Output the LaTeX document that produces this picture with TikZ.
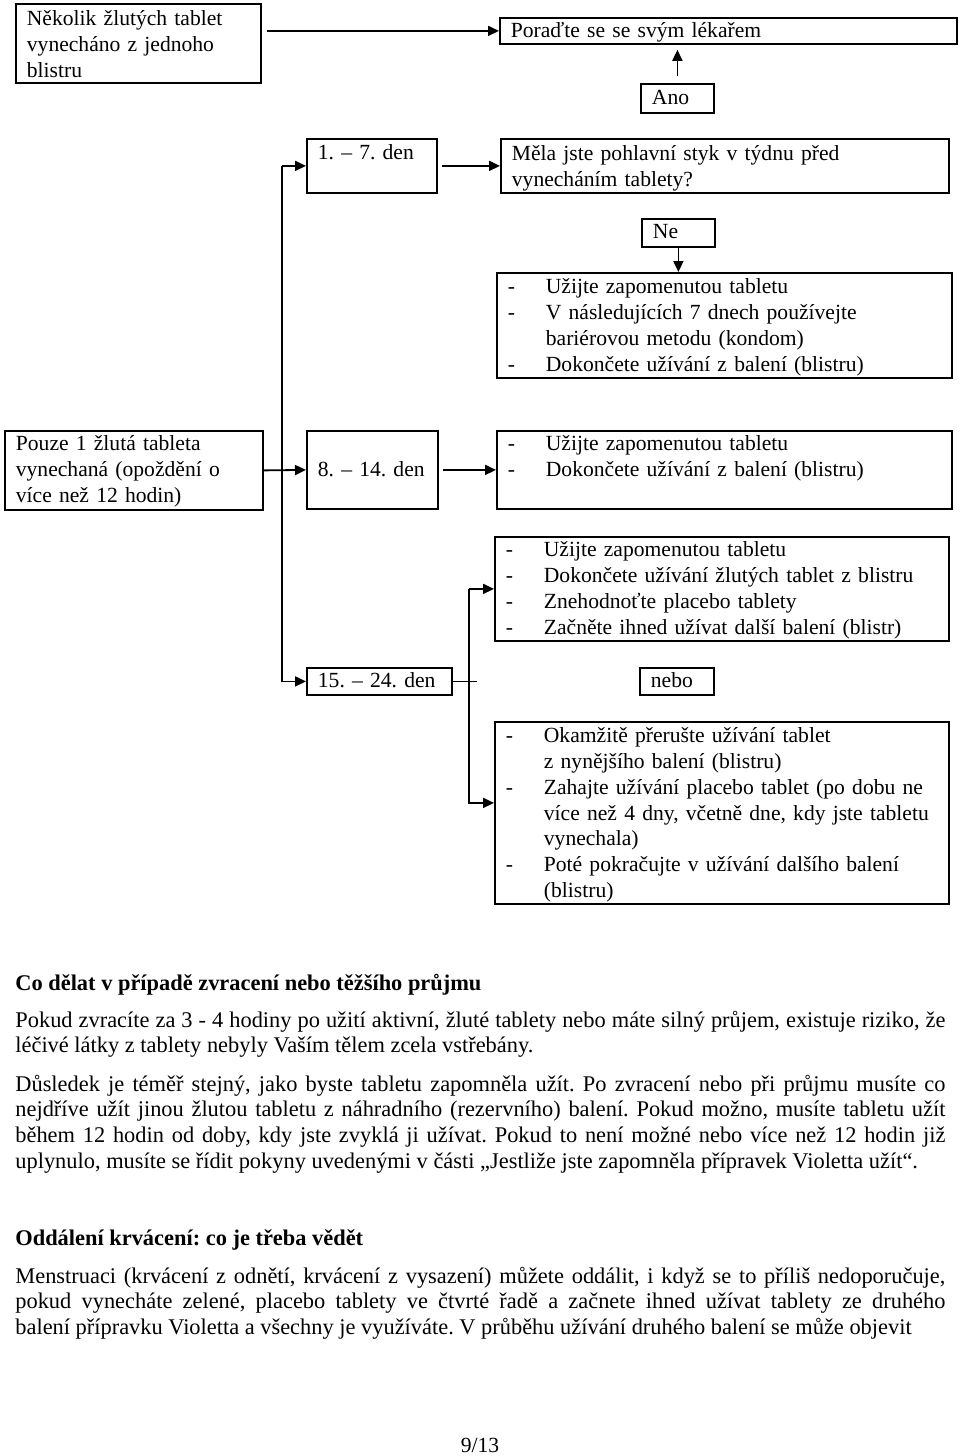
\documentclass[tikz,border=0pt]{standalone}
\usepackage{fontspec}
\setmainfont{Liberation Serif}
\usetikzlibrary{arrows.meta}

% odrazka s predsazenim
\newcommand{\odr}{\hangindent=19pt\hangafter=1\noindent\makebox[19pt][l]{-}}

\begin{document}
\begin{tikzpicture}[x=0.5pt,y=-0.5pt,
    font=\fontsize{10.8pt}{12.85pt}\selectfont\frenchspacing,
    box/.style={draw,line width=0.9pt,anchor=north west,
      inner xsep=5.5pt,inner ysep=0pt,align=left},
    arr/.style={line width=0.9pt,-{Triangle[length=5.5pt,width=5pt]}},
    txt/.style={anchor=base west,inner sep=0pt,text width=465pt,align=justify,
      font=\fontsize{11.2pt}{12.85pt}\selectfont\frenchspacing}]
  \useasboundingbox (0,0) rectangle (960,1456);

  % schema
  \draw (15,3) node[box,text width=111.5pt,text height=11pt,text depth=28.5pt] (nekolik)
    {Několik žlutých tablet\\ vynecháno z jednoho\\ blistru};
  \draw (499,17) node[box,text width=217.5pt,text height=10pt,text depth=3pt] (porad)
    {Poraďte se se svým lékařem};
  \draw (640,83) node[box,text width=25.5pt,text height=10.5pt,text depth=4pt] (ano) {Ano};
  \draw (306,138) node[box,text width=54pt,text height=10.5pt,text depth=16.5pt] (den1) {1. – 7. den};
  \draw (500,138) node[box,text width=213pt,text height=11pt,text depth=16pt] (mela)
    {Měla jste pohlavní styk v týdnu před\\ vynecháním tablety?};
  \draw (641,218) node[box,text width=25.5pt,text height=10pt,text depth=4pt] (ne) {Ne};
  \draw (496,272) node[box,text width=216.5pt,text height=10.5pt,text depth=42pt] (r17)
    {\odr Užijte zapomenutou tabletu
     \par\odr V následujících 7 dnech používejte\newline bariérovou metodu (kondom)
     \par\odr Dokončete užívání z balení (blistru)\par};
  \draw (4,430) node[box,text width=118pt,text height=10pt,text depth=29.5pt] (pouze)
    {Pouze 1 žlutá tableta\\ vynechaná (opoždění o\\ více než 12 hodin)};
  \draw (306,430) node[box,text width=54.5pt,text height=23pt,text depth=16pt] (den8) {8. – 14. den};
  \draw (496,430) node[box,text width=216.5pt,text height=10pt,text depth=29pt] (r814)
    {\odr Užijte zapomenutou tabletu
     \par\odr Dokončete užívání z balení (blistru)\par};
  \draw (494,536) node[box,text width=216pt,text height=10pt,text depth=42pt] (rA)
    {\odr Užijte zapomenutou tabletu
     \par\odr Dokončete užívání žlutých tablet z blistru
     \par\odr Znehodnoťte placebo tablety
     \par\odr Začněte ihned užívat další balení (blistr)\par};
  \draw (306,667) node[box,text width=61.5pt,text height=10pt,text depth=3.5pt] (den15) {15. – 24. den};
  \draw (639,667) node[box,text width=26pt,text height=10pt,text depth=3.5pt] (nebo) {nebo};
  \draw (494,721) node[box,text width=216pt,text height=10.5pt,text depth=80.5pt] (rB)
    {\odr Okamžitě přerušte užívání tablet\newline z nynějšího balení (blistru)
     \par\odr Zahajte užívání placebo tablet (po dobu ne\newline více než 4 dny, včetně dne, kdy jste tabletu\newline vynechala)
     \par\odr Poté pokračujte v užívání dalšího balení\newline (blistru)\par};

  % spojnice
  \draw[arr,shorten <=2.5pt] (nekolik.east |- porad.west) -- (porad.west);
  \draw[arr,shorten <=3.5pt,shorten >=2.5pt] (ano.north) -- (ano.north |- porad.south);
  \draw[arr,shorten <=2pt] (den1.east) -- (mela.west);
  \draw[arr] (ne.south) -- (ne.south |- r17.north);
  \draw[arr] (den1.west) ++(-24,0) |- (den15.west);
  \draw[arr] (den1.west) ++(-24,0) -- (den1.west);
  \draw[arr] (pouze.east) -- (den8.west);
  \draw[arr,shorten <=2pt] (den8.east) -- (r814.west);
  \draw[line width=0.9pt] (den15.east) -- ++(24,0);
  \draw[arr] (rA.west) ++(-25,0) |- ([yshift=5pt]rB.west);
  \draw[arr] (rA.west) ++(-25,0) -- (rA.west);

  % text pod schematem
  \draw (15,990) node[txt] (nadpis1) {\bfseries Co dělat v případě zvracení nebo těžšího průjmu};
  \draw (15,1027) node[txt] (odst1)
    {Pokud zvracíte za 3 - 4 hodiny po užití aktivní, žluté tablety nebo máte silný průjem, existuje riziko, že\linebreak
     léčivé látky z tablety nebyly Vaším tělem zcela vstřebány.};
  \draw (15,1091) node[txt] (odst2)
    {Důsledek je téměř stejný, jako byste tabletu zapomněla užít. Po zvracení nebo při průjmu musíte co\linebreak
     nejdříve užít jinou žlutou tabletu z náhradního (rezervního) balení. Pokud možno, musíte tabletu užít\linebreak
     během 12 hodin od doby, kdy jste zvyklá ji užívat. Pokud to není možné nebo více než 12 hodin již\linebreak
     uplynulo, musíte se řídit pokyny uvedenými v části „Jestliže jste zapomněla přípravek Violetta užít“.};
  \draw (15,1245) node[txt] (nadpis2) {\bfseries Oddálení krvácení: co je třeba vědět};
  \draw (15,1283) node[txt] (odst3)
    {\parfillskip=0pt Menstruaci (krvácení z odnětí, krvácení z vysazení) můžete oddálit, i když se to příliš nedoporučuje,\linebreak
     pokud vynecháte zelené, placebo tablety ve čtvrté řadě a začnete ihned užívat tablety ze druhého\linebreak
     balení přípravku Violetta a všechny je využíváte. V průběhu užívání druhého balení se může objevit};
  \draw (480,1452) node[anchor=base] (strana) {9/13};
\end{tikzpicture}
\end{document}
